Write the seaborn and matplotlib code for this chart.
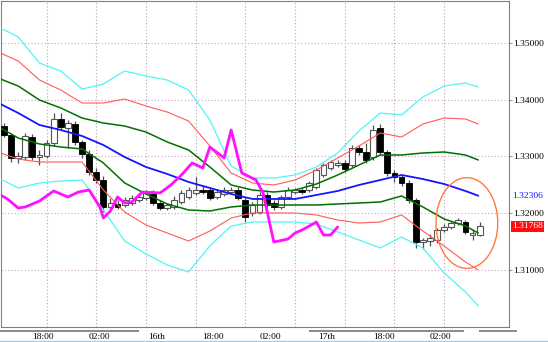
import numpy as np
import pandas as pd
import matplotlib
matplotlib.use("Agg")
import matplotlib.pyplot as plt
import seaborn as sns
from matplotlib.patches import Ellipse, Rectangle
from matplotlib.lines import Line2D

# ---------------- data (hourly candles, index 0..67) ----------------
opens = [1.33536, 1.33377, 1.32972, 1.32989, 1.33342, 1.32989, 1.33007, 1.33236, 1.33660, 1.33501,
         1.33571, 1.33254, 1.33042, 1.32725, 1.32584, 1.32108, 1.32161, 1.32143, 1.32178, 1.32231,
         1.32266, 1.32337, 1.32178, 1.32090, 1.32108, 1.32196, 1.32284, 1.32355, 1.32407, 1.32407,
         1.32284, 1.32337, 1.32372, 1.32407, 1.32231, 1.32002, 1.32019, 1.32319, 1.32178, 1.32108,
         1.32284, 1.32372, 1.32407, 1.32407, 1.32460, 1.32672, 1.32795, 1.32848, 1.32884, 1.32848,
         1.33148, 1.33078, 1.32989, 1.33501, 1.33078, 1.32707, 1.32637, 1.32531, 1.32231, 1.31490,
         1.31508, 1.31526, 1.31702, 1.31755, 1.31825, 1.31843, 1.31614, 1.31614]
highs = [1.33589, 1.33413, 1.33078, 1.33413, 1.33395, 1.33113, 1.33289, 1.33766, 1.33766, 1.33642,
         1.33624, 1.33289, 1.33113, 1.32795, 1.32654, 1.32266, 1.32231, 1.32284, 1.32319, 1.32355,
         1.32407, 1.32407, 1.32231, 1.32178, 1.32302, 1.32407, 1.32460, 1.32637, 1.32478, 1.32460,
         1.32425, 1.32460, 1.32460, 1.32460, 1.32284, 1.32196, 1.32372, 1.32372, 1.32231, 1.32319,
         1.32460, 1.32443, 1.32443, 1.32566, 1.32795, 1.32884, 1.32937, 1.32937, 1.32937, 1.33201,
         1.33201, 1.33236, 1.33554, 1.33571, 1.33113, 1.32760, 1.32672, 1.32584, 1.32266, 1.31561,
         1.31631, 1.31737, 1.31808, 1.31861, 1.31914, 1.31878, 1.31702, 1.31843]
lows = [1.33342, 1.32901, 1.32884, 1.32937, 1.32937, 1.32848, 1.32972, 1.33183, 1.33466, 1.33148,
        1.33201, 1.32972, 1.32672, 1.32531, 1.32019, 1.32055, 1.32072, 1.32108, 1.32143, 1.32196,
        1.32231, 1.32143, 1.32055, 1.32055, 1.32072, 1.32161, 1.32249, 1.32319, 1.32337, 1.32231,
        1.32249, 1.32302, 1.32337, 1.32231, 1.31843, 1.31949, 1.31984, 1.32108, 1.32055, 1.32072,
        1.32249, 1.32337, 1.32337, 1.32372, 1.32425, 1.32637, 1.32760, 1.32813, 1.32725, 1.32813,
        1.33025, 1.32884, 1.32937, 1.33025, 1.32654, 1.32549, 1.32478, 1.32178, 1.31385, 1.31367,
        1.31420, 1.31473, 1.31667, 1.31720, 1.31790, 1.31631, 1.31526, 1.31596]
closes = [1.33377, 1.32972, 1.33007, 1.33360, 1.32989, 1.33025, 1.33236, 1.33660, 1.33519, 1.33589,
          1.33254, 1.33042, 1.32725, 1.32584, 1.32108, 1.32178, 1.32108, 1.32231, 1.32266, 1.32284,
          1.32355, 1.32178, 1.32090, 1.32143, 1.32231, 1.32355, 1.32407, 1.32407, 1.32372, 1.32266,
          1.32372, 1.32407, 1.32407, 1.32266, 1.31931, 1.32143, 1.32319, 1.32143, 1.32108, 1.32284,
          1.32407, 1.32407, 1.32372, 1.32531, 1.32760, 1.32848, 1.32901, 1.32884, 1.32778, 1.33148,
          1.33078, 1.32937, 1.33466, 1.33078, 1.32707, 1.32637, 1.32531, 1.32231, 1.31490, 1.31526,
          1.31561, 1.31702, 1.31755, 1.31825, 1.31878, 1.31667, 1.31649, 1.31768]

# band / moving-average lines, sampled at candle positions
band_x = [-0.5, 2, 5, 8, 11, 14, 17, 20, 23, 26, 29, 32, 35, 38, 41, 44, 47, 50, 53, 56, 59, 62, 65, 66.8]
cyan_upper = [1.35265, 1.35106, 1.34647, 1.34506, 1.34189, 1.34277, 1.34506, 1.34418, 1.34347, 1.34171,
              1.33642, 1.32831, 1.32619, 1.32619, 1.32672, 1.32813, 1.33060, 1.33448, 1.33766, 1.33730,
              1.34048, 1.34242, 1.34295, 1.34224]
red_upper = [1.34824, 1.34683, 1.34347, 1.34171, 1.33942, 1.33942, 1.34012, 1.33889, 1.33783, 1.33624,
             1.33183, 1.32707, 1.32531, 1.32496, 1.32584, 1.32760, 1.32972, 1.33183, 1.33413, 1.33342,
             1.33571, 1.33677, 1.33660, 1.33571]
green_upper = [1.34365, 1.34242, 1.33995, 1.33854, 1.33677, 1.33589, 1.33536, 1.33430, 1.33254, 1.33113,
               1.32813, 1.32496, 1.32407, 1.32372, 1.32407, 1.32513, 1.32672, 1.32848, 1.33025, 1.33025,
               1.33060, 1.33078, 1.33025, 1.32937]
blue_mid = [1.33924, 1.33766, 1.33554, 1.33466, 1.33360, 1.33201, 1.32989, 1.32813, 1.32690, 1.32549,
            1.32443, 1.32337, 1.32249, 1.32249, 1.32249, 1.32319, 1.32390, 1.32496, 1.32584, 1.32672,
            1.32601, 1.32513, 1.32390, 1.32306]
green_lower = [1.33501, 1.33325, 1.33219, 1.33166, 1.33131, 1.32884, 1.32531, 1.32337, 1.32161, 1.32055,
               1.32037, 1.32108, 1.32143, 1.32143, 1.32143, 1.32143, 1.32161, 1.32178, 1.32196, 1.32302,
               1.32108, 1.31896, 1.31772, 1.31649]
red_lower = [1.33060, 1.32954, 1.32901, 1.32901, 1.32901, 1.32407, 1.32019, 1.31790, 1.31649, 1.31508,
             1.31684, 1.31914, 1.32002, 1.32002, 1.32002, 1.31967, 1.31878, 1.31825, 1.31843, 1.31967,
             1.31684, 1.31420, 1.31138, 1.30997]
cyan_lower = [1.32601, 1.32443, 1.32531, 1.32566, 1.32584, 1.32055, 1.31508, 1.31279, 1.31085, 1.30961,
              1.31420, 1.31772, 1.31843, 1.31843, 1.31843, 1.31808, 1.31667, 1.31526, 1.31385, 1.31578,
              1.31385, 1.30944, 1.30609, 1.30362]

magenta_x = [-0.5, 0.5, 2, 3, 5, 7, 9, 10.5, 12, 13.5, 14, 15, 16, 17, 18, 19.5, 22, 23.5, 25, 26.5,
             28, 29, 31, 32, 33.5, 35.5, 36.5, 38, 40, 41, 42, 44, 45, 46, 47]
magenta_y = [1.32319, 1.32249, 1.32090, 1.32108, 1.32213, 1.32390, 1.32284, 1.32372, 1.32407, 1.32108,
             1.31914, 1.32037, 1.32284, 1.32178, 1.32196, 1.32372, 1.32355, 1.32496, 1.32672, 1.32884,
             1.32795, 1.33166, 1.32972, 1.33466, 1.32707, 1.32584, 1.32355, 1.31490, 1.31543, 1.31649,
             1.31702, 1.31843, 1.31614, 1.31614, 1.31755]

y_ticks = [1.31, 1.32, 1.33, 1.34, 1.35]
x_label_pos = [5.5, 13.5, 21.5, 29.5, 37.5, 45.5, 53.5, 61.5]
x_labels = ["18:00", "02:00", "16th", "18:00", "02:00", "17th", "18:00", "02:00"]
x_grid_pos = [6, 13, 20, 27, 34, 41, 48, 55, 62]
ma_last = 1.32306
price_last = 1.31768
circle_center = (65.2, 1.31825)
circle_size = (8.7, 0.0160)

# ---------------- figure ----------------
sns.set_style("white")
plt.rcParams["font.family"] = ["Liberation Serif", "DejaVu Serif"]

W, H = 548, 342
fig = plt.figure(figsize=(W / 100, H / 100), dpi=100)
fig.patch.set_facecolor("white")
ax = fig.add_axes([0.5 / W, 1 - 327 / H, 508 / W, 326 / H])
ax.set_facecolor("white")

n = len(opens)
idx = np.arange(n)
o = np.array(opens); c = np.array(closes)
hi = np.array(highs); lo = np.array(lows)
up = c >= o

# wicks
ax.vlines(idx, lo, hi, color="#505050", linewidth=0.9, zorder=2)
# bodies
bottoms = np.minimum(o, c)
heights = np.maximum(np.abs(c - o), 0.00004)
ax.bar(idx[up], heights[up], bottom=bottoms[up], width=0.82,
       color="white", edgecolor="#555555", linewidth=0.8, zorder=3)
ax.bar(idx[~up], heights[~up], bottom=bottoms[~up], width=0.82,
       color="black", edgecolor="black", linewidth=0.6, zorder=3)

# indicator lines
styles = [
    (cyan_upper, "#4ff5f5", 0.9),
    (cyan_lower, "#4ff5f5", 0.9),
    (red_upper, "#ff5a5a", 0.8),
    (red_lower, "#ff5a5a", 0.8),
    (green_upper, "#007000", 1.1),
    (green_lower, "#007000", 1.1),
    (blue_mid, "#1515ff", 1.3),
]
for vals, col, lw in styles:
    sns.lineplot(x=band_x, y=vals, ax=ax, color=col, linewidth=lw,
                 estimator=None, sort=False, zorder=4)
sns.lineplot(x=magenta_x, y=magenta_y, ax=ax, color="#ff10ff", linewidth=2.0,
             estimator=None, sort=False, zorder=5)

ax.add_patch(Ellipse(circle_center, circle_size[0], circle_size[1], fill=False,
                     edgecolor="#ff7a3c", linewidth=1.0, zorder=6))

# limits
ax.set_xlim(-0.49, 71.06)
ax.set_ylim(1.29991, 1.35741)

# grid
ax.set_xticks(x_grid_pos, minor=True)
ax.grid(which="minor", axis="x", color="#b8a0c0", linestyle=(0, (1, 2)), linewidth=0.8)
ax.set_yticks(y_ticks)
ax.grid(which="major", axis="y", color="#d0a0c8", linestyle=(0, (1, 2)), linewidth=0.8)
ax.grid(which="major", axis="x", visible=False)
ax.set_axisbelow(True)

# ticks
ax.yaxis.tick_right()
ax.set_yticklabels([f"{v:.5f}" for v in y_ticks])
ax.tick_params(axis="y", which="major", length=2.5, width=0.6, color="#808080",
               pad=1, labelsize=6.8, labelcolor="black")
ax.set_xticks(x_label_pos)
ax.set_xticklabels(x_labels)
ax.tick_params(axis="x", which="major", length=0, pad=4.5, labelsize=6.8, labelcolor="black")
ax.tick_params(axis="x", which="minor", length=0)
ax.set_xlabel(""); ax.set_ylabel("")

for s in ax.spines.values():
    s.set_color("#808080")
    s.set_linewidth(0.8)

# last-value labels on the price scale
ax.annotate(f"{ma_last:.5f}", xy=(1, ma_last), xycoords=("axes fraction", "data"),
            xytext=(2.6, 0), textcoords="offset points", va="center", ha="left",
            fontsize=6.8, color="#1515ff")
ax.annotate(f"{price_last:.5f}", xy=(1, price_last), xycoords=("axes fraction", "data"),
            xytext=(2.6, 0), textcoords="offset points", va="center", ha="left",
            fontsize=6.8, color="white",
            bbox=dict(boxstyle="square,pad=0.15", fc="#ff1010", ec="none"))

# scrollbar-like strips under the time axis
for x0, x1 in [(0, 139), (309, 464), (479, 517)]:
    fig.add_artist(Rectangle((x0 / W, 1 - 332 / H), (x1 - x0) / W, 2 / H,
                             transform=fig.transFigure, color="#8c8c8c", lw=0))
fig.add_artist(Line2D([0, 1], [0.6 / H, 0.6 / H], transform=fig.transFigure,
                      color="#b4c8dc", linewidth=1.0))

fig.savefig("out.png", dpi=100, facecolor="white")
